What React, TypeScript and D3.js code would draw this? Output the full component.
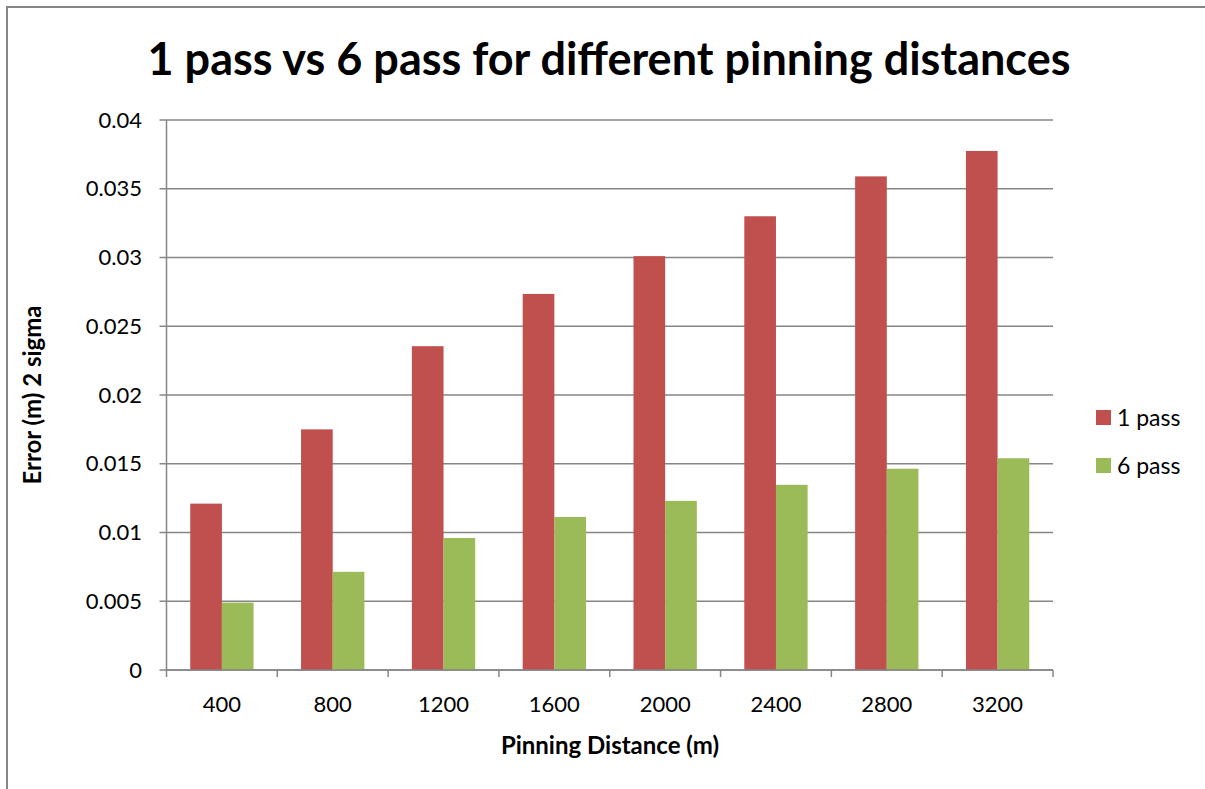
import React from "react";
import * as d3 from "d3";

const categories = ["400", "800", "1200", "1600", "2000", "2400", "2800", "3200"];
const series1Name = "1 pass";
const series2Name = "6 pass";
const series1 = [0.0121, 0.0175, 0.02355, 0.02735, 0.0301, 0.0330, 0.0359, 0.03775];
const series2 = [0.0049, 0.00714, 0.0096, 0.01113, 0.0123, 0.01347, 0.01464, 0.0154];
const yTicks = [0, 0.005, 0.01, 0.015, 0.02, 0.025, 0.03, 0.035, 0.04];
const yTickLabels = ["0", "0.005", "0.01", "0.015", "0.02", "0.025", "0.03", "0.035", "0.04"];

const W = 1205;
const H = 789;
const left = 166.5;
const right = 1053;
const top = 120;
const bottom = 670;
const RED = "#C0504D";
const GREEN = "#9BBB59";
const GRID = "#868686";
const FONT = "Lato, 'Open Sans', sans-serif";

export default function App() {
  const x = d3.scaleBand<string>().domain(categories).range([left, right]).paddingInner(0).paddingOuter(0);
  const y = d3.scaleLinear().domain([0, 0.04]).range([bottom, top]);
  const bw = x.bandwidth();
  const barW = bw / 3.5;
  const gap = (bw - 2 * barW) / 2;
  const series = [
    { name: series1Name, values: series1, color: RED },
    { name: series2Name, values: series2, color: GREEN },
  ];
  return (
    <svg width={W} height={H} style={{ position: "absolute", left: 0, top: 0 }} fontFamily={FONT}>
      <rect x={0} y={0} width={W} height={H} fill="#fff" />
      <path d={`M7,${H} V7 H${W}`} fill="none" stroke={GRID} strokeWidth={2} />
      <text x={609} y={75} textAnchor="middle" fontSize={45} fontWeight="bold" fill="#000">
        1 pass vs 6 pass for different pinning distances
      </text>
      {yTicks.map((t, i) => (
        <g key={i}>
          <line x1={left - 7} x2={right} y1={y(t)} y2={y(t)} stroke={GRID} strokeWidth={1.5} />
          <text x={142} y={y(t)} dy="0.35em" textAnchor="end" fontSize={22} fill="#000">
            {yTickLabels[i]}
          </text>
        </g>
      ))}
      <line x1={left} x2={left} y1={top} y2={bottom} stroke={GRID} strokeWidth={1.5} />
      {series.map((s, si) =>
        s.values.map((v, i) => (
          <rect
            key={`${si}-${i}`}
            x={(x(categories[i]) as number) + gap + si * barW}
            y={y(v)}
            width={barW}
            height={y(0) - y(v)}
            fill={s.color}
          />
        ))
      )}
      <line x1={left} x2={right} y1={bottom} y2={bottom} stroke={GRID} strokeWidth={1.5} />
      {categories.map((c, i) => (
        <line key={`t${i}`} x1={x(c) as number} x2={x(c) as number} y1={bottom} y2={bottom + 7} stroke={GRID} strokeWidth={1.5} />
      ))}
      <line x1={right} x2={right} y1={bottom} y2={bottom + 7} stroke={GRID} strokeWidth={1.5} />
      {categories.map((c, i) => (
        <text key={`l${i}`} x={(x(c) as number) + bw / 2} y={704} dy="0.35em" textAnchor="middle" fontSize={22} fill="#000">
          {c}
        </text>
      ))}
      <text x={610} y={746} dy="0.35em" textAnchor="middle" fontSize={24} fontWeight="bold" fill="#000">
        Pinning Distance (m)
      </text>
      <text transform={`translate(33,395) rotate(-90)`} dy="0.35em" textAnchor="middle" fontSize={24} fontWeight="bold" fill="#000">
        Error (m) 2 sigma
      </text>
      {series.map((s, si) => (
        <g key={`lg${si}`} transform={`translate(1096,${410 + si * 48})`}>
          <rect x={0} y={0} width={15} height={15} fill={s.color} />
          <text x={21} y={7.5} dy="0.35em" fontSize={23} fill="#000">
            {s.name}
          </text>
        </g>
      ))}
    </svg>
  );
}
